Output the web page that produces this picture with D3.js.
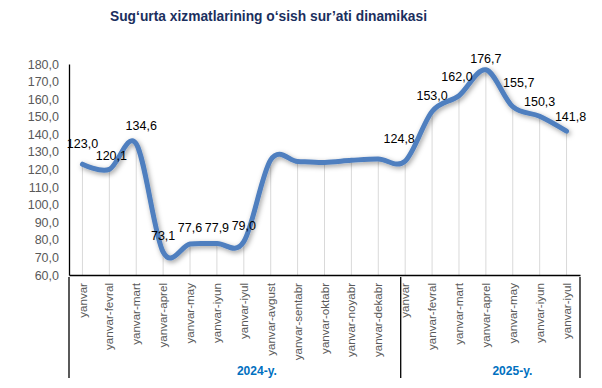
<!DOCTYPE html>
<html>
<head>
<meta charset="utf-8">
<script src="https://cdn.jsdelivr.net/npm/d3@7"></script>
<style>
  html, body { margin: 0; padding: 0; background: #ffffff; }
  svg { display: block; font-family: "Liberation Sans", Arial, sans-serif; }
</style>
</head>
<body>
<svg id="chart" width="602" height="388"></svg>
<script>
// ---- Data ----
const title = "Sug‘urta xizmatlarining o‘sish sur’ati dinamikasi";
const categories = [
  "yanvar", "yanvar-fevral", "yanvar-mart", "yanvar-aprel", "yanvar-may",
  "yanvar-iyun", "yanvar-iyul", "yanvar-avgust", "yanvar-sentabr", "yanvar-oktabr",
  "yanvar-noyabr", "yanvar-dekabr",
  "yanvar", "yanvar-fevral", "yanvar-mart", "yanvar-aprel", "yanvar-may",
  "yanvar-iyun", "yanvar-iyul"
];
const values = [
  123.0, 120.1, 134.6, 73.1, 77.6, 77.9, 79.0,
  125.5, 124.6, 124.0, 125.2, 126.0,
  124.8, 153.0, 162.0, 176.7, 155.7, 150.3, 141.8
];
const labelShown = [
  true, true, true, true, true, true, true,
  false, false, false, false, false,
  true, true, true, true, true, true, true
];
const groups = ["2024-y.", "2025-y."];
const groupSizes = [12, 7];
const yTicks = [60, 70, 80, 90, 100, 110, 120, 130, 140, 150, 160, 170, 180];

(function () {
// ---- Layout ----
const svg = d3.select("#chart");
const pLeft = 69, pRight = 580, pTop = 64, pBottom = 275;
const fmt = v => d3.format(".1f")(v).replace(".", ",");

const x = d3.scaleBand().domain(d3.range(categories.length)).range([pLeft, pRight]).padding(0);
const bw = x.bandwidth();
const cx = i => x(i) + bw / 2;
const y = d3.scaleLinear().domain([60, 180]).range([pBottom, pTop]);

// label nudges relative to each point (layout only)
const labelNudge = [
  [0, -21], [2, -14], [5, -18], [0, -16], [0, -16], [0, -16], [0, -16],
  [0, -16], [0, -16], [0, -16], [0, -16], [0, -16],
  [-6, -22], [0, -16], [-2, -19], [0, -11], [6, -24], [0, -15], [4, -15]
];

// title
svg.append("text")
  .attr("x", 268.5).attr("y", 21)
  .attr("text-anchor", "middle")
  .attr("font-size", "15px").attr("font-weight", "bold")
  .attr("fill", "#1b2f5e")
  .attr("textLength", 317).attr("lengthAdjust", "spacingAndGlyphs")
  .text(title);

// y axis
const yAxis = d3.axisLeft(y).tickValues(yTicks).tickSize(0).tickPadding(10).tickFormat(fmt);
const gy = svg.append("g").attr("transform", `translate(${pLeft},0)`).call(yAxis);
gy.select(".domain").attr("stroke", "#000").attr("stroke-width", 1.3);
gy.selectAll("text").attr("font-size", "12.5px").attr("fill", "#595959")
  .attr("font-family", "Liberation Sans, Arial, sans-serif");

// drop lines
svg.append("g").selectAll("line").data(values).join("line")
  .attr("x1", (d, i) => cx(i)).attr("x2", (d, i) => cx(i))
  .attr("y1", d => y(d)).attr("y2", pBottom)
  .attr("stroke", "#d9d9d9").attr("stroke-width", 1);

// x axis
const xAxis = d3.axisBottom(x).tickSize(0).tickFormat(i => categories[i]);
const gx = svg.append("g").attr("transform", `translate(0,${pBottom})`).call(xAxis);
gx.select(".domain").attr("stroke", "#000").attr("stroke-width", 1.3);
gx.selectAll("text")
  .attr("font-size", "11.6px").attr("fill", "#595959")
  .attr("font-family", "Liberation Sans, Arial, sans-serif")
  .attr("text-anchor", "end")
  .attr("transform", "rotate(-90)")
  .attr("x", -8).attr("y", 0).attr("dy", "0.35em");

// group separators
const sepXs = [pLeft, x(groupSizes[0]) + bw / 3, pRight];
svg.append("g").selectAll("line").data(sepXs).join("line")
  .attr("x1", d => d).attr("x2", d => d)
  .attr("y1", pBottom + 2).attr("y2", 378)
  .attr("stroke", "#000").attr("stroke-width", 1.3);

// group labels
svg.append("g").selectAll("text").data(groups).join("text")
  .attr("x", (d, i) => (sepXs[i] + sepXs[i + 1]) / 2 + 22)
  .attr("y", 375)
  .attr("text-anchor", "middle")
  .attr("font-size", "12px").attr("font-weight", "bold")
  .attr("fill", "#0070c0")
  .text(d => d);

// shadow filter
const defs = svg.append("defs");
const f = defs.append("filter").attr("id", "shadow")
  .attr("x", "-10%").attr("y", "-10%").attr("width", "120%").attr("height", "120%");
f.append("feDropShadow").attr("dx", 1.5).attr("dy", 2).attr("stdDeviation", 2.6)
  .attr("flood-color", "#000").attr("flood-opacity", 0.38);

// line
const line = d3.line()
  .x((d, i) => cx(i))
  .y(d => y(d))
  .curve(d3.curveCatmullRom.alpha(0));
svg.append("path")
  .datum(values)
  .attr("d", line)
  .attr("fill", "none")
  .attr("stroke", "#4f7fbf")
  .attr("stroke-width", 5)
  .attr("stroke-linecap", "round")
  .attr("stroke-linejoin", "round")
  .attr("filter", "url(#shadow)");

// data labels
svg.append("g").selectAll("text")
  .data(values.map((v, i) => ({ v, i })).filter(d => labelShown[d.i]))
  .join("text")
  .attr("x", d => cx(d.i) + labelNudge[d.i][0])
  .attr("y", d => y(d.v) + labelNudge[d.i][1])
  .attr("dy", "0.35em")
  .attr("text-anchor", "middle")
  .attr("font-size", "12.5px")
  .attr("fill", "#000")
  .text(d => fmt(d.v));
})();
</script>
</body>
</html>
